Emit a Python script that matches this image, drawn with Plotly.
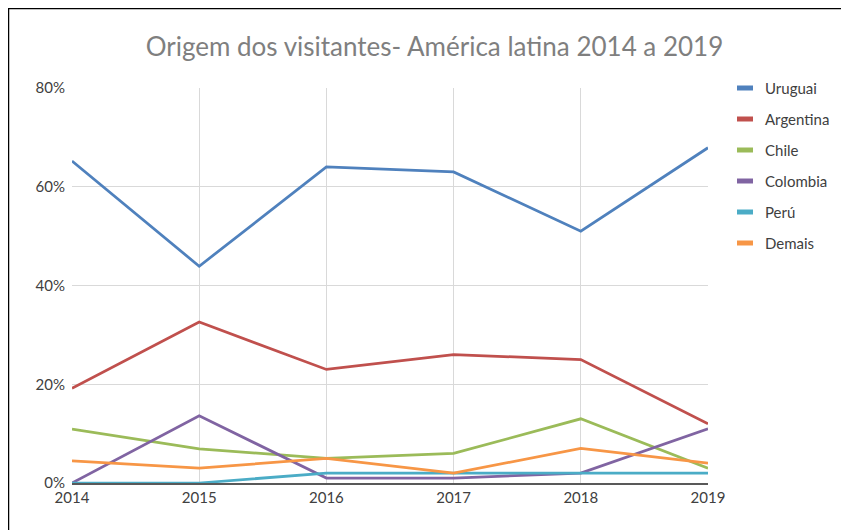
import plotly.graph_objects as go

years = [2014, 2015, 2016, 2017, 2018, 2019]
uruguai = [0.652, 0.439, 0.640, 0.630, 0.510, 0.679]
argentina = [0.192, 0.326, 0.230, 0.260, 0.250, 0.120]
chile = [0.109, 0.069, 0.050, 0.060, 0.130, 0.030]
colombia = [0.000, 0.136, 0.010, 0.010, 0.020, 0.110]
peru = [0.000, 0.000, 0.020, 0.020, 0.020, 0.020]
demais = [0.045, 0.030, 0.050, 0.020, 0.070, 0.040]

series = [
    ("Uruguai", uruguai, "#4F81BD"),
    ("Argentina", argentina, "#C0504D"),
    ("Chile", chile, "#9BBB59"),
    ("Colombia", colombia, "#8064A2"),
    ("Perú", peru, "#4BACC6"),
    ("Demais", demais, "#F79646"),
]

# page body has an 8px margin, so the figure is laid out in page coords minus 8
W, H = 841, 522
L, R, T, B = 64, 141, 80, 47
pw, ph = W - L - R, H - T - B


def px(fx):
    return (fx - L) / pw


def py(fy):
    return (H - B - fy) / ph


fig = go.Figure()
for name, vals, col in series:
    fig.add_trace(go.Scatter(x=years, y=vals, name=name, mode="lines",
                             line=dict(color=col, width=2.75), showlegend=False))

fig.update_layout(
    width=W, height=H,
    margin=dict(l=L, r=R, t=T, b=B),
    paper_bgcolor="white", plot_bgcolor="white",
    font=dict(family="Lato, Open Sans, sans-serif", size=15, color="#404040"),
    title=dict(text="Origem dos visitantes- América latina 2014 a 2019",
               x=px(426.5), xref="paper", xanchor="center",
               y=1 - 39 / H, yref="container", yanchor="middle",
               font=dict(size=26, color="#7F7F7F")),
    showlegend=False,
    xaxis=dict(range=[2014, 2019], tickvals=years, ticktext=[str(y) for y in years],
               showgrid=True, gridcolor="#D9D9D9", gridwidth=1,
               showline=True, linecolor="#595959", linewidth=1.5, mirror=False,
               zeroline=False, ticks="", tickfont=dict(size=15, color="#404040")),
    yaxis=dict(range=[0, 0.8], dtick=0.2, tickformat=".0%",
               showgrid=True, gridcolor="#D9D9D9", gridwidth=1,
               zeroline=False, showline=False, ticks="outside", ticklen=3, tickcolor="white",
               tickfont=dict(size=15, color="#404040")),
)

# custom legend: short thick swatches + text
for i, (name, vals, col) in enumerate(series):
    fy = 80 + 31 * i
    fig.add_shape(type="line", xref="paper", yref="paper",
                  x0=px(729), x1=px(745), y0=py(fy), y1=py(fy),
                  line=dict(color=col, width=5))
    fig.add_annotation(text=name, xref="paper", yref="paper",
                       x=px(755), y=py(fy), xanchor="left", yanchor="middle",
                       showarrow=False, font=dict(size=15, color="#404040"))

# chart frame: only top and left edges fall inside the view
fig.add_shape(type="rect", xref="paper", yref="paper",
              x0=px(0.5), x1=px(W + 20), y0=py(H + 20), y1=py(0.5),
              line=dict(color="black", width=1.5), fillcolor="rgba(0,0,0,0)", layer="below")

fig.write_html("out.html")
